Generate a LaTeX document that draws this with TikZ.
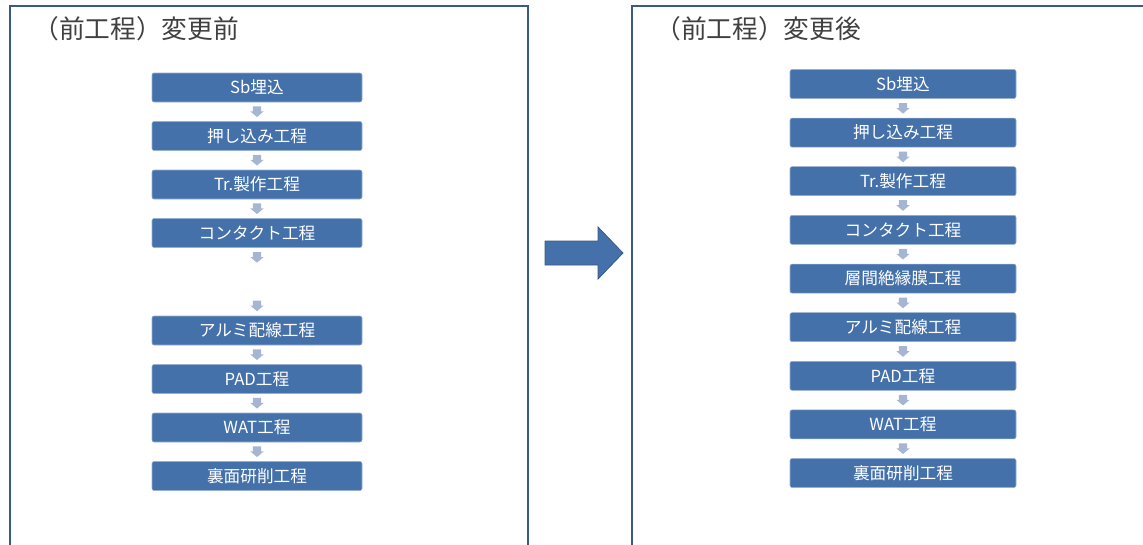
\documentclass[tikz,border=0pt]{standalone}
\usepackage{fontspec}
\newfontfamily\jp{Noto Sans CJK JP}
\usetikzlibrary{calc}
\definecolor{boxblue}{RGB}{69,113,170}
\definecolor{boxedge}{RGB}{150,175,210}
\definecolor{framec}{RGB}{56,90,136}
\definecolor{smallarr}{RGB}{166,182,210}
\definecolor{titlec}{RGB}{64,64,64}
\tikzset{
  procbox/.style={fill=boxblue, draw=boxedge, line width=0.4pt, rounded corners=1.5pt,
    minimum height=21.75pt, text=white, inner sep=0pt,
    font=\jp\fontsize{12.5}{14}\selectfont},
  leftbox/.style={procbox, minimum width=157.5pt},
  rightbox/.style={procbox, minimum width=169.5pt},
  titletext/.style={anchor=west, text=titlec, inner sep=0pt, font=\jp\fontsize{19.3}{22}\selectfont},
  framel/.style={draw=framec, line width=1.8pt},
  downarr/.pic={\fill[smallarr] (-4.2,-5.3) -- (4.2,-5.3) -- (4.2,-0.3) -- (6.6,-0.3) -- (0,5.3) -- (-6.6,-0.3) -- (-4.2,-0.3) -- cycle;},
}
\begin{document}
\begin{tikzpicture}[x=0.75pt,y=-0.75pt]
\useasboundingbox (0,0) rectangle (1143,544);
\begin{scope}
\clip (0,0) rectangle (1143,544);
\draw[framel] (10,600) -- (10,6) -- (528,6) -- (528,600);
\draw[framel] (632,600) -- (632,6) -- (1200,6);
\end{scope}
% titles
\node[titletext] (t1) at (33,29) {（前工程）変更前};
\node[titletext] (t2) at (655,29) {（前工程）変更後};
% left column
\node[leftbox] (l1) at (257,87.5) {Sb埋込};
\node[leftbox] (l2) at (257,136) {押し込み工程};
\node[leftbox] (l3) at (257,184.5) {Tr.製作工程};
\node[leftbox] (l4) at (257,233) {コンタクト工程};
\coordinate (l5t) at (257,267);
\coordinate (l5b) at (257,296);
\node[leftbox] (l6) at (257,330.5) {アルミ配線工程};
\node[leftbox] (l7) at (257,379) {PAD工程};
\node[leftbox] (l8) at (257,427.5) {WAT工程};
\node[leftbox] (l9) at (257,476) {裏面研削工程};
\path ($(l1.south)!0.5!(l2.north)$) pic {downarr};
\path ($(l2.south)!0.5!(l3.north)$) pic {downarr};
\path ($(l3.south)!0.5!(l4.north)$) pic {downarr};
\path ($(l4.south)!0.5!(l5t)$) pic {downarr};
\path ($(l5b)!0.5!(l6.north)$) pic {downarr};
\path ($(l6.south)!0.5!(l7.north)$) pic {downarr};
\path ($(l7.south)!0.5!(l8.north)$) pic {downarr};
\path ($(l8.south)!0.5!(l9.north)$) pic {downarr};
% right column
\node[rightbox] (r1) at (903,84) {Sb埋込};
\node[rightbox] (r2) at (903,132.6) {押し込み工程};
\node[rightbox] (r3) at (903,181.2) {Tr.製作工程};
\node[rightbox] (r4) at (903,229.8) {コンタクト工程};
\node[rightbox] (r5) at (903,278.6) {層間絶縁膜工程};
\node[rightbox] (r6) at (903,327.2) {アルミ配線工程};
\node[rightbox] (r7) at (903,375.8) {PAD工程};
\node[rightbox] (r8) at (903,424.4) {WAT工程};
\node[rightbox] (r9) at (903,473) {裏面研削工程};
\foreach \a/\b in {r1/r2,r2/r3,r3/r4,r4/r5,r5/r6,r6/r7,r7/r8,r8/r9}
  \path ($(\a.south)!0.5!(\b.north)$) pic {downarr};
% big arrow
\filldraw[fill=boxblue, draw=framec, line width=0.6pt]
  (545,241) -- (598,241) -- (598,227) -- (623,253) -- (598,279) -- (598,265) -- (545,265) -- cycle;
\end{tikzpicture}
\end{document}
